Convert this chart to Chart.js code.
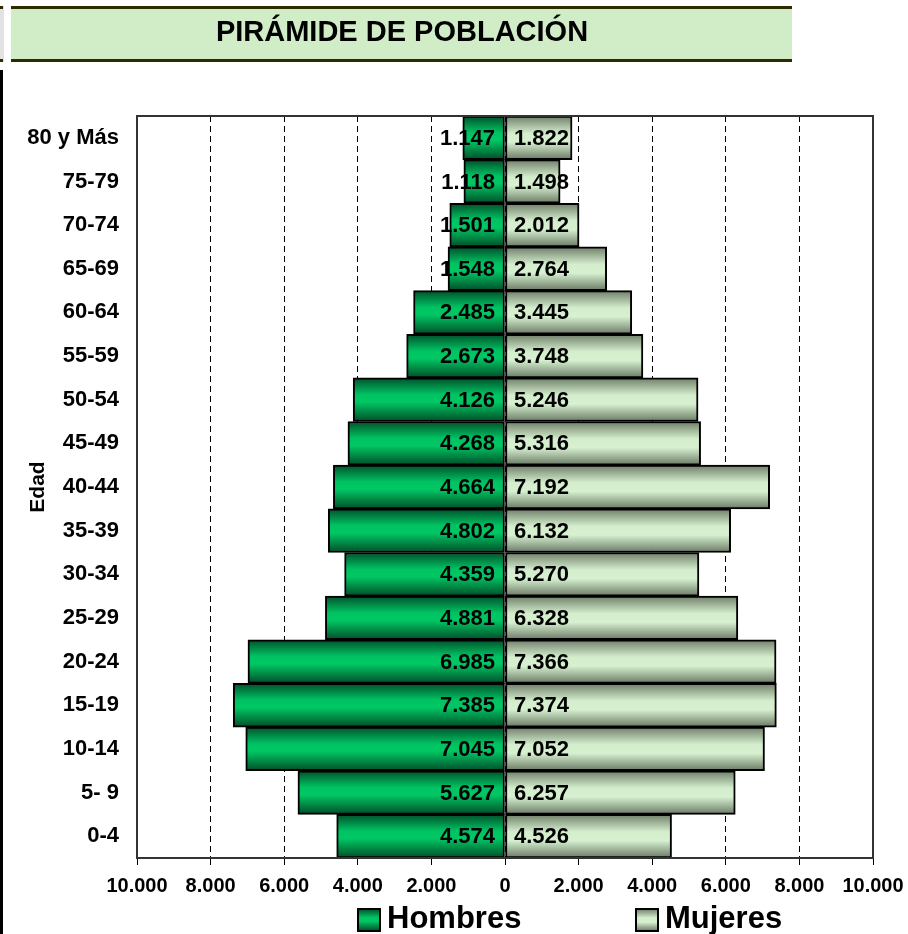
<!DOCTYPE html>
<html>
<head>
<meta charset="utf-8">
<script src="https://cdn.jsdelivr.net/npm/chart.js@4"></script>
<style>
  html, body { margin: 0; padding: 0; background: #fff; }
  #wrap { width: 908px; height: 934px; position: relative; }
</style>
</head>
<body>
<div id="wrap"><canvas id="pyramid" width="908" height="934"></canvas></div>
<script>
const edades = ['0-4', '5- 9', '10-14', '15-19', '20-24', '25-29', '30-34', '35-39', '40-44',
    '45-49', '50-54', '55-59', '60-64', '65-69', '70-74', '75-79', '80 y Más'];
const hombres = [4574, 5627, 7045, 7385, 6985, 4881, 4359, 4802, 4664, 4268, 4126, 2673, 2485, 1548, 1501, 1118, 1147];
const mujeres = [4526, 6257, 7052, 7374, 7366, 6328, 5270, 6132, 7192, 5316, 5246, 3748, 3445, 2764, 2012, 1498, 1822];
const xTicks = [-10000, -8000, -6000, -4000, -2000, 0, 2000, 4000, 6000, 8000, 10000];

const titulo = 'PIRÁMIDE DE POBLACIÓN';
const FONT = 'Arial, "Liberation Sans", sans-serif';

function fmt(n) {
    return String(Math.abs(n)).replace(/\B(?=(\d{3})+(?!\d))/g, '.');
}

function gradHombres(ctx, y0, y1) {
    const g = ctx.createLinearGradient(0, y0, 0, y1);
    g.addColorStop(0, '#00502a');
    g.addColorStop(0.38, '#00c262');
    g.addColorStop(0.55, '#00c864');
    g.addColorStop(1, '#004d28');
    return g;
}

function gradMujeres(ctx, y0, y1) {
    const g = ctx.createLinearGradient(0, y0, 0, y1);
    g.addColorStop(0, '#6f7e68');
    g.addColorStop(0.4, '#d4eecd');
    g.addColorStop(0.6, '#d6f0d0');
    g.addColorStop(1, '#6a7964');
    return g;
}

// degradado por barra, usando la escala y del propio grafico
function barGradient(maker) {
    return c => {
        const chart = c.chart;
        const area = chart.chartArea;
        const yScale = chart.scales.y;
        if (!area || !yScale || c.dataIndex === undefined) return '#888';
        const cy = yScale.getPixelForValue(c.dataIndex);
        const h = (area.bottom - area.top) / edades.length;
        return maker(chart.ctx, cy - h / 2, cy + h / 2);
    };
}

const decorPlugin = {
    id: 'decor',
    beforeDraw(chart) {
        const ctx = chart.ctx;
        ctx.save();
        ctx.fillStyle = '#fff';
        ctx.fillRect(0, 0, chart.width, chart.height);

        // banner del titulo
        ctx.fillStyle = '#e2e2e2';
        ctx.fillRect(0, 6, 4, 56);
        ctx.fillStyle = '#2f2b00';
        ctx.fillRect(0, 6, 3, 3);
        ctx.fillRect(0, 59, 3, 3);
        ctx.fillStyle = '#d0edc7';
        ctx.fillRect(11, 6, 781, 56);
        ctx.fillStyle = '#2f2b00';
        ctx.fillRect(11, 6, 781, 3);
        ctx.fillRect(11, 59, 781, 3);
        ctx.fillStyle = '#000';
        ctx.font = 'bold 29px ' + FONT;
        ctx.textAlign = 'center';
        ctx.textBaseline = 'middle';
        ctx.fillText(titulo, 402, 33);

        // linea izquierda
        ctx.fillStyle = '#000';
        ctx.fillRect(0, 70, 3, 864);
        ctx.restore();
    },
    afterDatasetsDraw(chart) {
        const ctx = chart.ctx;
        const area = chart.chartArea;
        const zeroX = chart.scales.x.getPixelForValue(0);
        ctx.save();
        // borde del area
        ctx.strokeStyle = '#333';
        ctx.lineWidth = 2;
        ctx.strokeRect(area.left, area.top, area.right - area.left, area.bottom - area.top);

        // etiquetas de datos
        ctx.fillStyle = '#000';
        ctx.font = 'bold 22px ' + FONT;
        ctx.textBaseline = 'middle';
        chart.getDatasetMeta(0).data.forEach((bar, j) => {
            ctx.textAlign = 'right';
            ctx.fillText(fmt(hombres[j]), zeroX - 10, bar.y + 1);
        });
        chart.getDatasetMeta(1).data.forEach((bar, j) => {
            ctx.textAlign = 'left';
            ctx.fillText(fmt(mujeres[j]), zeroX + 9, bar.y + 1);
        });

        // titulo eje y
        ctx.save();
        ctx.translate(38, (area.top + area.bottom) / 2);
        ctx.rotate(-Math.PI / 2);
        ctx.textAlign = 'center';
        ctx.font = 'bold 21px ' + FONT;
        ctx.fillText('Edad', 0, 0);
        ctx.restore();

        // leyenda
        const items = [
            { label: 'Hombres', x: 358, grad: gradHombres },
            { label: 'Mujeres', x: 636, grad: gradMujeres }
        ];
        items.forEach(it => {
            ctx.fillStyle = it.grad(ctx, 909, 931);
            ctx.fillRect(it.x, 909, 22, 22);
            ctx.strokeStyle = '#000';
            ctx.lineWidth = 2;
            ctx.strokeRect(it.x, 909, 22, 22);
            ctx.fillStyle = '#000';
            ctx.font = 'bold 31px ' + FONT;
            ctx.textAlign = 'left';
            ctx.textBaseline = 'middle';
            ctx.fillText(it.label, it.x + 29, 919);
        });
        ctx.restore();
    }
};

const ctx = document.getElementById('pyramid').getContext('2d');
new Chart(ctx, {
    type: 'bar',
    data: {
        labels: edades,
        datasets: [
            {
                label: 'Hombres',
                data: hombres.map(v => -v),
                backgroundColor: barGradient(gradHombres),
                borderColor: '#000',
                borderWidth: 2,
                borderSkipped: false,
                barPercentage: 1,
                categoryPercentage: 1
            },
            {
                label: 'Mujeres',
                data: mujeres,
                backgroundColor: barGradient(gradMujeres),
                borderColor: '#000',
                borderWidth: 2,
                borderSkipped: false,
                barPercentage: 1,
                categoryPercentage: 1
            }
        ]
    },
    options: {
        indexAxis: 'y',
        responsive: false,
        animation: false,
        layout: { padding: { left: 0, right: 35, top: 116, bottom: 0 } },
        plugins: {
            legend: { display: false },
            tooltip: { enabled: false }
        },
        scales: {
            x: {
                stacked: true,
                min: -10000,
                max: 10000,
                afterBuildTicks: scale => { scale.ticks = xTicks.map(v => ({ value: v })); },
                afterFit: scale => {
                    scale.height = 76;
                    scale.paddingLeft = 0;
                    scale.paddingRight = 0;
                },
                grid: {
                    color: '#000',
                    lineWidth: 1,
                    tickLength: 7,
                    tickColor: '#000',
                    tickBorderDash: []
                },
                border: { display: true, color: '#333', width: 2, dash: [6, 4] },
                ticks: {
                    color: '#000',
                    padding: 9,
                    maxRotation: 0,
                    autoSkip: false,
                    font: { family: FONT, size: 20, weight: 'bold' },
                    callback: v => fmt(v)
                }
            },
            y: {
                stacked: true,
                reverse: true,
                afterFit: scale => { scale.width = 137; },
                grid: { display: false },
                border: { display: false },
                ticks: {
                    color: '#000',
                    padding: 10,
                    font: { family: FONT, size: 22, weight: 'bold' }
                }
            }
        }
    },
    plugins: [decorPlugin]
});
</script>
</body>
</html>
